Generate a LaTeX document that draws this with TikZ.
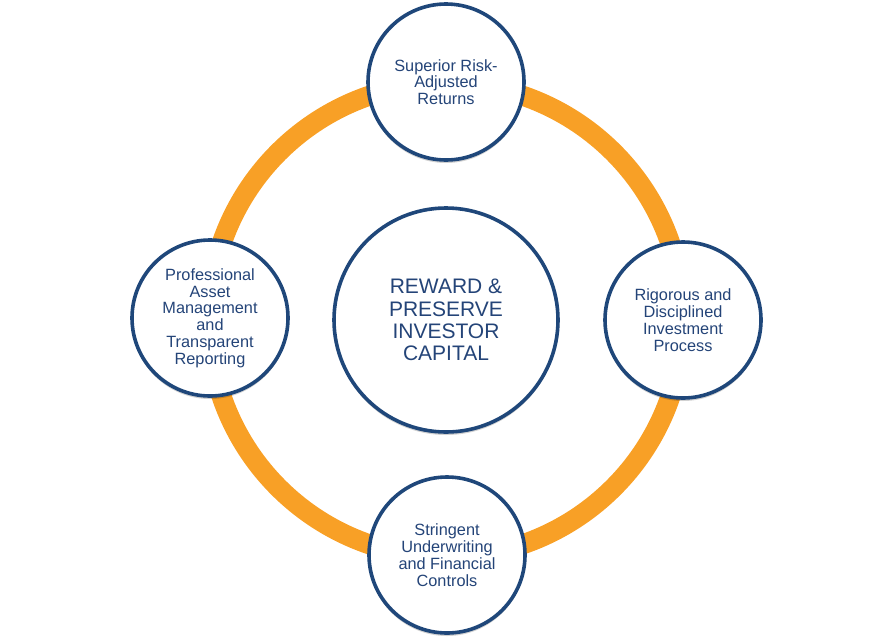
\documentclass[tikz,border=0pt]{standalone}
\usepackage{fontspec}
\setmainfont{Liberation Sans}
\usetikzlibrary{positioning,shadows}

\definecolor{ringorange}{RGB}{248,160,38}
\definecolor{navyline}{RGB}{31,71,122}
\definecolor{navytext}{RGB}{36,68,120}

\tikzset{
  pillar/.style={circle,draw=navyline,line width=3.6pt,fill=white,
    minimum size=156pt,inner sep=0pt,align=center,text=navytext,
    font=\fontsize{16.3}{16.8}\selectfont,
    drop shadow={shadow xshift=0pt,shadow yshift=-3pt,opacity=0.18,fill=black}},
  hub/.style={pillar,minimum size=224pt,font=\fontsize{21}{22.2}\selectfont}
}

\begin{document}
\begin{tikzpicture}[x=1pt,y=-1pt]
    \useasboundingbox (0,0) rectangle (893,643);
    % Orange ring tegnes foerst, saa cirklerne ligger ovenpaa
    \coordinate (mid) at (446,320);
    \draw[ringorange,line width=20pt,
      drop shadow={shadow xshift=1pt,shadow yshift=-1.5pt,opacity=0.12,fill=none,draw=black}]
      (mid) circle (237pt);
    % Midterste cirkel
    \node[hub] (capital) at (mid) {REWARD \&\\PRESERVE\\INVESTOR\\CAPITAL};
    % De fire satellitter
    \node[pillar] (returns) at (446,82) {Superior Risk-\\Adjusted\\Returns};
    \node[pillar] (process) at (683,320) {Rigorous and\\Disciplined\\Investment\\Process};
    \node[pillar] (controls) at (447,555) {Stringent\\Underwriting\\and Financial\\Controls};
    \node[pillar] (reporting) at (210,318) {Professional\\Asset\\Management\\and\\Transparent\\Reporting};
  \end{tikzpicture}
\end{document}
